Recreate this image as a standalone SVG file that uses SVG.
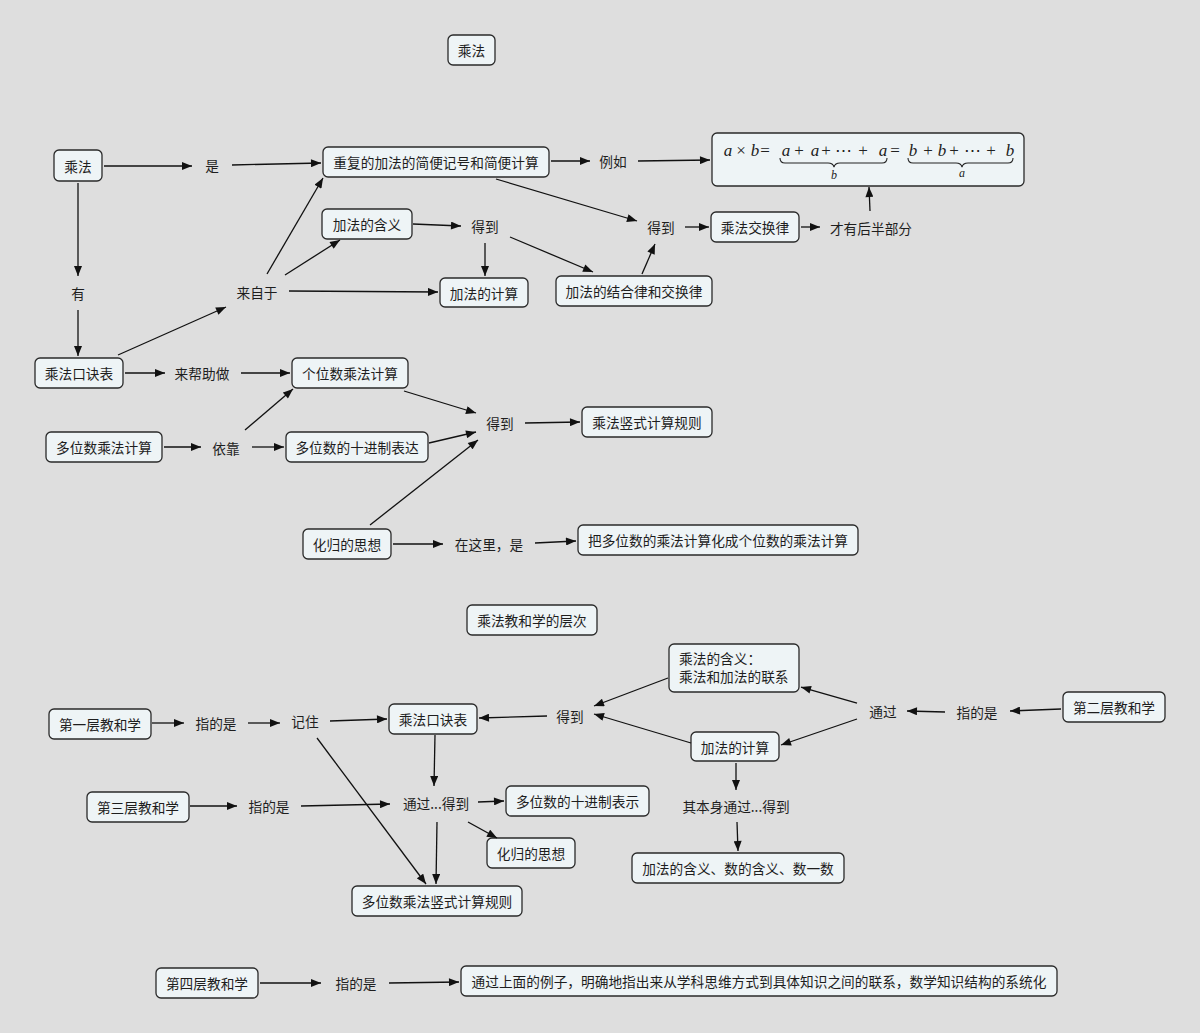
<svg xmlns="http://www.w3.org/2000/svg" width="1200" height="1033" viewBox="0 0 1200 1033">
<defs>
<marker id="ah" viewBox="0 0 10 8" refX="10" refY="4" markerWidth="11" markerHeight="8" markerUnits="userSpaceOnUse" orient="auto"><path d="M0,0 L10,4 L0,8 z" fill="#111"/></marker>
<style>
.n rect{fill:#eef4f6;stroke:#2a2a2a;stroke-width:1.3}
text{font-family:"Noto Sans CJK SC","Noto Sans",sans-serif;font-size:13.7px;fill:#1e1e1e}
.c{text-anchor:middle;dominant-baseline:central}
.e path{fill:none;stroke:#111;stroke-width:1.3;marker-end:url(#ah)}
.m{font-family:"Liberation Serif","DejaVu Serif",serif;font-size:17px;fill:#222;text-anchor:middle}
.mi{font-style:italic}
.br{fill:none;stroke:#222;stroke-width:1.1}
</style>
</defs>
<rect width="1200" height="1033" fill="#dedede"/>

<g id="title1" class="n"><rect x="448" y="35" width="47" height="30" rx="5"/><text class="c" x="471.5" y="50">乘法</text></g>
<g id="chengfa" class="n"><rect x="54" y="150" width="48" height="31" rx="5"/><text class="c" x="78" y="165.5">乘法</text></g>
<g id="l_shi"><text class="c" x="212" y="165">是</text></g>
<g id="chongfu" class="n"><rect x="323" y="147" width="226" height="30" rx="5"/><text class="c" x="436" y="162">重复的加法的简便记号和简便计算</text></g>
<g id="l_liru"><text class="c" x="613" y="161">例如</text></g>
<g id="formula" class="n"><rect x="712" y="133" width="312" height="53" rx="5"/>
<text class="m" y="156"><tspan class="mi" x="728">a</tspan><tspan x="741">×</tspan><tspan class="mi" x="755">b</tspan><tspan x="765">=</tspan><tspan class="mi" x="786">a</tspan><tspan x="799">+</tspan><tspan class="mi" x="815">a</tspan><tspan x="826">+</tspan><tspan x="843">⋯</tspan><tspan x="863">+</tspan><tspan class="mi" x="883">a</tspan><tspan x="895">=</tspan><tspan class="mi" x="913">b</tspan><tspan x="928">+</tspan><tspan class="mi" x="942">b</tspan><tspan x="954">+</tspan><tspan x="972">⋯</tspan><tspan x="991">+</tspan><tspan class="mi" x="1010">b</tspan></text>
<path class="br" d="M780,158 Q780,163 785,163 L828,163 Q833,163 834,167 Q835,163 840,163 L882,163 Q887,163 887,158"/>
<path class="br" d="M908,158 Q908,163 913,163 L956,163 Q961,163 962,167 Q963,163 968,163 L1008,163 Q1013,163 1013,158"/>
<text class="m mi" x="834" y="179" style="font-size:12px">b</text>
<text class="m mi" x="962" y="177" style="font-size:12px">a</text>
</g>
<g id="jiafa_hanyi" class="n"><rect x="322" y="209" width="90" height="30" rx="5"/><text class="c" x="367" y="224">加法的含义</text></g>
<g id="l_dedao1"><text class="c" x="485" y="226">得到</text></g>
<g id="l_dedao2"><text class="c" x="661" y="227">得到</text></g>
<g id="jiaohuanlv" class="n"><rect x="711" y="212" width="88" height="30" rx="5"/><text class="c" x="755" y="227">乘法交换律</text></g>
<g id="l_caiyou"><text class="c" x="871" y="228">才有后半部分</text></g>
<g id="l_you"><text class="c" x="78" y="293">有</text></g>
<g id="l_laizi"><text class="c" x="257" y="292">来自于</text></g>
<g id="jiafa_jisuan" class="n"><rect x="440" y="278" width="88" height="29" rx="5"/><text class="c" x="484" y="292.5">加法的计算</text></g>
<g id="jiehelv" class="n"><rect x="556" y="276" width="156" height="30" rx="5"/><text class="c" x="634" y="291">加法的结合律和交换律</text></g>
<g id="koujue" class="n"><rect x="35" y="358" width="88" height="30" rx="5"/><text class="c" x="79" y="373">乘法口诀表</text></g>
<g id="l_bangzhu"><text class="c" x="202" y="373">来帮助做</text></g>
<g id="gewei" class="n"><rect x="292" y="358" width="116" height="30" rx="5"/><text class="c" x="350" y="373">个位数乘法计算</text></g>
<g id="duowei" class="n"><rect x="46" y="432" width="116" height="30" rx="5"/><text class="c" x="104" y="447">多位数乘法计算</text></g>
<g id="l_yikao"><text class="c" x="226" y="448">依靠</text></g>
<g id="shijinzhi" class="n"><rect x="286" y="432" width="142" height="30" rx="5"/><text class="c" x="357" y="447">多位数的十进制表达</text></g>
<g id="l_dedao3"><text class="c" x="500" y="423">得到</text></g>
<g id="shushi" class="n"><rect x="582" y="407" width="130" height="30" rx="5"/><text class="c" x="647" y="422">乘法竖式计算规则</text></g>
<g id="huagui" class="n"><rect x="303" y="529" width="88" height="30" rx="5"/><text class="c" x="347" y="544">化归的思想</text></g>
<g id="l_zaizheli"><text class="c" x="489" y="544">在这里，是</text></g>
<g id="ba" class="n"><rect x="578" y="525" width="280" height="30" rx="5"/><text class="c" x="718" y="540">把多位数的乘法计算化成个位数的乘法计算</text></g>

<g id="title2" class="n"><rect x="467" y="605" width="130" height="30" rx="5"/><text class="c" x="532" y="620">乘法教和学的层次</text></g>
<g id="diyi" class="n"><rect x="49" y="709" width="102" height="30" rx="5"/><text class="c" x="100" y="724">第一层教和学</text></g>
<g id="l_zhi1"><text class="c" x="216" y="723">指的是</text></g>
<g id="l_jizhu"><text class="c" x="305" y="721">记住</text></g>
<g id="koujue2" class="n"><rect x="389" y="704" width="88" height="30" rx="5"/><text class="c" x="433" y="719">乘法口诀表</text></g>
<g id="l_dedao4"><text class="c" x="570" y="716">得到</text></g>
<g id="hanyi2" class="n"><rect x="669" y="644" width="130" height="48" rx="5"/><text x="679" y="664">乘法的含义：</text><text x="679" y="682">乘法和加法的联系</text></g>
<g id="l_tongguo"><text class="c" x="883" y="711">通过</text></g>
<g id="l_zhi2"><text class="c" x="977" y="712">指的是</text></g>
<g id="dier" class="n"><rect x="1063" y="692" width="102" height="30" rx="5"/><text class="c" x="1114" y="707">第二层教和学</text></g>
<g id="jiafa_jisuan2" class="n"><rect x="691" y="732" width="88" height="29" rx="5"/><text class="c" x="735" y="746.5">加法的计算</text></g>
<g id="l_qibenshen"><text class="c" x="736" y="806">其本身通过...得到</text></g>
<g id="shuyishu" class="n"><rect x="632" y="853" width="212" height="30" rx="5"/><text class="c" x="738" y="868">加法的含义、数的含义、数一数</text></g>
<g id="disan" class="n"><rect x="87" y="792" width="102" height="30" rx="5"/><text class="c" x="138" y="807">第三层教和学</text></g>
<g id="l_zhi3"><text class="c" x="269" y="806">指的是</text></g>
<g id="l_tongguodedao"><text class="c" x="436" y="803">通过...得到</text></g>
<g id="shijinzhi2" class="n"><rect x="506" y="786" width="143" height="30" rx="5"/><text class="c" x="577.5" y="801">多位数的十进制表示</text></g>
<g id="huagui2" class="n"><rect x="487" y="838" width="88" height="30" rx="5"/><text class="c" x="531" y="853">化归的思想</text></g>
<g id="shushi2" class="n"><rect x="352" y="886" width="170" height="30" rx="5"/><text class="c" x="437" y="901">多位数乘法竖式计算规则</text></g>
<g id="disi" class="n"><rect x="156" y="968" width="102" height="30" rx="5"/><text class="c" x="207" y="983">第四层教和学</text></g>
<g id="l_zhi4"><text class="c" x="356" y="983">指的是</text></g>
<g id="tongguo_long" class="n"><rect x="461" y="966" width="596" height="30" rx="5"/><text class="c" x="759" y="981">通过上面的例子，明确地指出来从学科思维方式到具体知识之间的联系，数学知识结构的系统化</text></g>

<g id="connectors" class="e">
<path d="M104,166 L192,166"/>
<path d="M232,165 L321,163"/>
<path d="M551,161 L590,161"/>
<path d="M638,161 L710,160"/>
<path d="M496,179 L637,221"/>
<path d="M78,183 L78,276"/>
<path d="M78,310 L78,356"/>
<path d="M118,355 L226,307"/>
<path d="M267,274 L323,178"/>
<path d="M285,275 L340,240"/>
<path d="M289,291 L438,292"/>
<path d="M413,224 L461,226"/>
<path d="M485,243 L485,276"/>
<path d="M510,237 L593,272"/>
<path d="M642,274 L655,244"/>
<path d="M685,227 L709,227"/>
<path d="M801,227 L820,227"/>
<path d="M870,211 L869,187"/>
<path d="M125,373 L165,373"/>
<path d="M241,373 L290,373"/>
<path d="M164,447 L201,447"/>
<path d="M252,447 L284,447"/>
<path d="M245,430 L293,389"/>
<path d="M404,391 L476,413"/>
<path d="M429,443 L476,432"/>
<path d="M370,525 L478,440"/>
<path d="M525,423 L580,422"/>
<path d="M393,544 L443,544"/>
<path d="M535,543 L576,541"/>
<path d="M152,723 L184,723"/>
<path d="M248,723 L280,723"/>
<path d="M330,721 L387,719"/>
<path d="M547,716 L479,718"/>
<path d="M435,735 L434,786"/>
<path d="M317,738 L426,884"/>
<path d="M437,822 L436,884"/>
<path d="M478,802 L504,801"/>
<path d="M468,822 L497,838"/>
<path d="M190,806 L237,806"/>
<path d="M301,806 L390,804"/>
<path d="M1061,709 L1010,711"/>
<path d="M945,712 L907,711"/>
<path d="M857,703 L801,687"/>
<path d="M857,719 L781,745"/>
<path d="M668,678 L594,706"/>
<path d="M691,743 L594,714"/>
<path d="M736,763 L736,790"/>
<path d="M737,822 L738,851"/>
<path d="M260,983 L321,983"/>
<path d="M389,983 L459,982"/>
</g>
</svg>
